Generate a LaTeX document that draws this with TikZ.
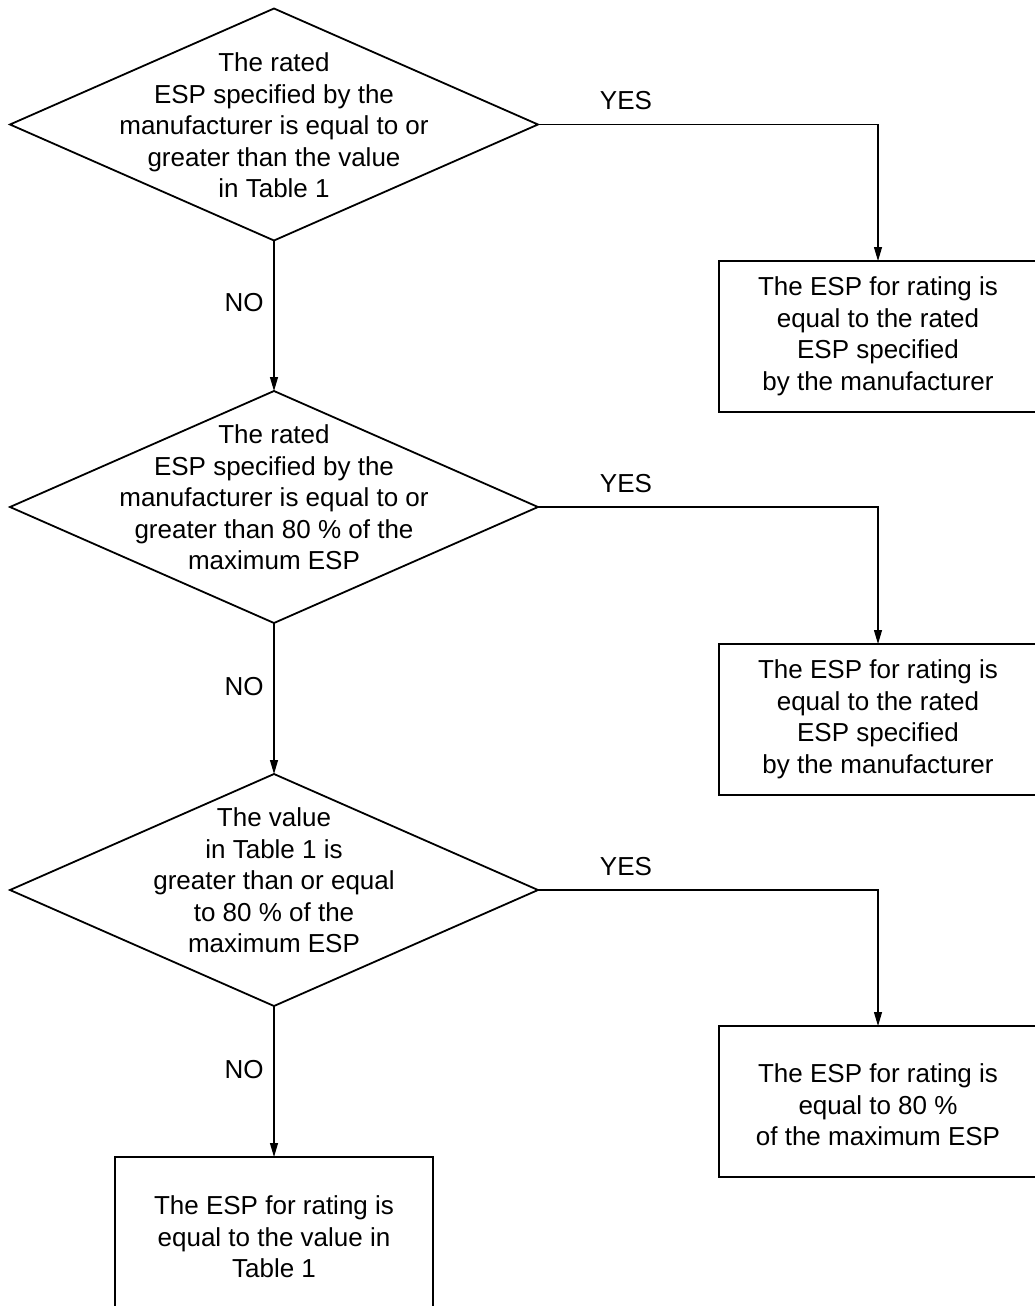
\documentclass[tikz,border=0pt]{standalone}
\usepackage{fontspec}
\setmainfont{Liberation Sans}
\usetikzlibrary{shapes.geometric,arrows.meta}
\begin{document}
\begin{tikzpicture}[x=1pt,y=-1pt,
  every node/.style={font=\fontsize{26}{31.5}\selectfont,outer sep=0pt},
  dec/.style={diamond,draw,line width=1.8pt,minimum width=528pt,minimum height=232pt,inner sep=0pt},
  txt/.style={align=center,inner sep=0pt},
  res/.style={draw,line width=1.8pt,minimum width=318pt,minimum height=151pt,align=center,inner sep=0pt},
  arr/.style={line width=1.1pt,-{Triangle[length=14pt,width=8pt]}},
  lab/.style={inner sep=0pt}]
\useasboundingbox (0,0) rectangle (1034,1306);

\node[dec] (d1) at (274,124.5) {};
\node[txt] (t1) at (274,125.5) {The rated\\ESP specified by the\\manufacturer is equal to or\\greater than the value\\in Table 1};
\node[dec] (d2) at (274,507) {};
\node[txt] (t2) at (274,497.5) {The rated\\ESP specified by the\\manufacturer is equal to or\\greater than 80 \% of the\\maximum ESP};
\node[dec] (d3) at (274,890) {};
\node[txt] (t3) at (274,880.5) {The value\\in Table 1 is\\greater than or equal\\to 80 \% of the\\maximum ESP};

\node[res] (r1) at (878,336.5) {The ESP for rating is\\equal to the rated\\ESP specified\\by the manufacturer};
\node[res] (r2) at (878,719.5) {The ESP for rating is\\equal to the rated\\ESP specified\\by the manufacturer};
\node[res] (r3) at (878,1101.5) {};
\node[txt] (r3t) at (878,1105) {The ESP for rating is\\equal to 80 \%\\of the maximum ESP};
\node[res] (r4) at (274,1232.5) {};
\node[txt] (r4t) at (274,1237) {The ESP for rating is\\equal to the value in\\Table 1};

\draw[arr] (d1.east) -| (r1.north);
\draw[arr] (d2.east) -| (r2.north);
\draw[arr] (d3.east) -| (r3.north);
\draw[arr] (d1.south) -- (d2.north);
\draw[arr] (d2.south) -- (d3.north);
\draw[arr] (d3.south) -- (r4.north);

\node[lab] (y1) at (626,101) {YES};
\node[lab] (y2) at (626,484) {YES};
\node[lab] (y3) at (626,867) {YES};
\node[lab] (n1) at (244,303) {NO};
\node[lab] (n2) at (244,687) {NO};
\node[lab] (n3) at (244,1070) {NO};
\end{tikzpicture}
\end{document}
